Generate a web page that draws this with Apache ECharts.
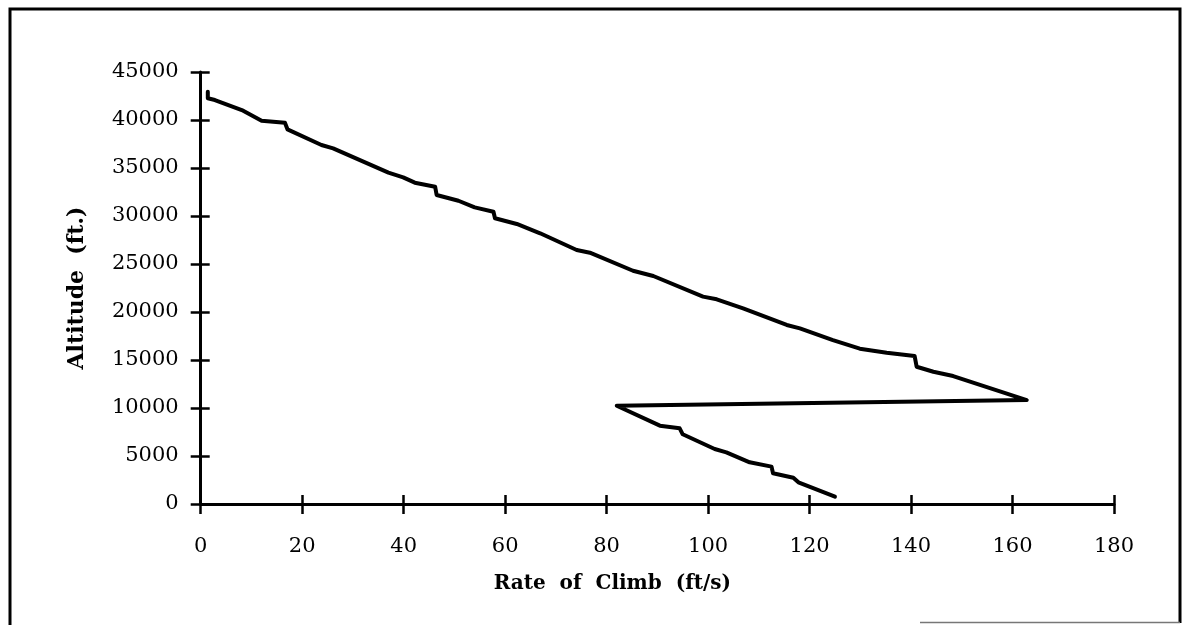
<!DOCTYPE html>
<html>
<head>
<meta charset="utf-8">
<script src="https://cdn.jsdelivr.net/npm/echarts@6/dist/echarts.min.js"></script>
<style>
  html, body { margin: 0; padding: 0; background: #ffffff; }
  #chart { width: 1186px; height: 625px; }
</style>
</head>
<body>
<div id="chart"></div>
<script>
// Rate of climb (ft/s) along the climb path
const rateOfClimb = [1.4, 1.4, 2.8, 8.1, 12.0, 16.6, 17.1, 23.8, 26.1, 37.0, 39.9, 42.2, 46.2, 46.5, 50.8, 54.0, 57.7, 58.0, 62.3, 66.9, 74.1, 76.7, 85.2, 89.2, 99.0, 101.7, 106.9, 115.5, 118.1, 124.6, 129.9, 135.2, 140.7, 141.1, 144.4, 148.3, 162.8, 82.0, 90.5, 94.4, 95.0, 101.3, 103.6, 108.2, 112.5, 112.8, 116.8, 117.8, 125.0];
// Altitude (ft.)
const altitude = [42950, 42260, 42080, 41040, 39930, 39720, 39030, 37400, 37050, 34510, 34030, 33470, 33050, 32190, 31590, 30900, 30450, 29760, 29170, 28200, 26460, 26180, 24300, 23750, 21600, 21320, 20380, 18650, 18300, 17080, 16180, 15760, 15420, 14300, 13780, 13330, 10830, 10240, 8160, 7880, 7260, 5730, 5380, 4340, 3890, 3200, 2740, 2260, 760];

const xTicks = { min: 0, max: 180, interval: 20 };
const yTicks = { min: 0, max: 45000, interval: 5000 };
const xTitle = 'Rate  of  Climb  (ft/s)';
const yTitle = 'Altitude  (ft.)';

const pts = rateOfClimb.map((x, i) => [x, altitude[i]]);
const FONT = 'DejaVu Serif';
const plain = v => String(v);

const chart = echarts.init(document.getElementById('chart'), null, { renderer: 'canvas' });

const baseX = {
  type: 'value', min: xTicks.min, max: xTicks.max, interval: xTicks.interval,
  splitLine: { show: false }
};
const baseY = {
  type: 'value', min: yTicks.min, max: yTicks.max, interval: yTicks.interval,
  splitLine: { show: false }
};

chart.setOption({
  animation: false,
  backgroundColor: '#ffffff',
  grid: { left: 200.7, right: 72, top: 72, bottom: 121 },
  graphic: [
    { type: 'polyline', shape: { points: [[10, 625], [10, 9], [1180, 9], [1180, 623]] },
      style: { stroke: '#000', lineWidth: 3, fill: null } },
    { type: 'line', shape: { x1: 920, y1: 622.5, x2: 1180, y2: 622.5 },
      style: { stroke: '#777', lineWidth: 1.5 } }
  ],
  xAxis: [
    Object.assign({}, baseX, {
      position: 'bottom',
      name: xTitle, nameLocation: 'middle', nameGap: 70,
      nameTextStyle: { fontFamily: FONT, fontWeight: 'bold', fontSize: 20, color: '#000', padding: [0, 90, 0, 0] },
      axisLine: { show: true, onZero: false, lineStyle: { color: '#000', width: 3 } },
      axisTick: { show: true, inside: false, length: 10, lineStyle: { color: '#000', width: 2.5 } },
      axisLabel: { show: true, margin: 32, fontFamily: FONT, fontSize: 21, color: '#000', formatter: plain }
    }),
    Object.assign({}, baseX, {
      position: 'bottom',
      axisLine: { show: false },
      axisTick: { show: true, inside: true, length: 9, lineStyle: { color: '#000', width: 2.5 } },
      axisLabel: { show: false }
    })
  ],
  yAxis: [
    Object.assign({}, baseY, {
      position: 'left',
      name: yTitle, nameLocation: 'middle', nameGap: 112,
      nameTextStyle: { fontFamily: FONT, fontWeight: 'bold', fontSize: 22, color: '#000' },
      axisLine: { show: true, onZero: false, lineStyle: { color: '#000', width: 3 } },
      axisTick: { show: true, inside: false, length: 10, lineStyle: { color: '#000', width: 2.5 } },
      axisLabel: { show: true, margin: 22, fontFamily: FONT, fontSize: 21, color: '#000', formatter: plain }
    }),
    Object.assign({}, baseY, {
      position: 'left',
      axisLine: { show: false },
      axisTick: { show: true, inside: true, length: 9, lineStyle: { color: '#000', width: 2.5 } },
      axisLabel: { show: false }
    })
  ],
  series: [{
    type: 'line',
    xAxisIndex: 0, yAxisIndex: 0,
    data: pts,
    showSymbol: false,
    symbol: 'none',
    lineStyle: { color: '#000', width: 4, join: 'round', cap: 'round' },
    silent: true
  }]
});
</script>
</body>
</html>
